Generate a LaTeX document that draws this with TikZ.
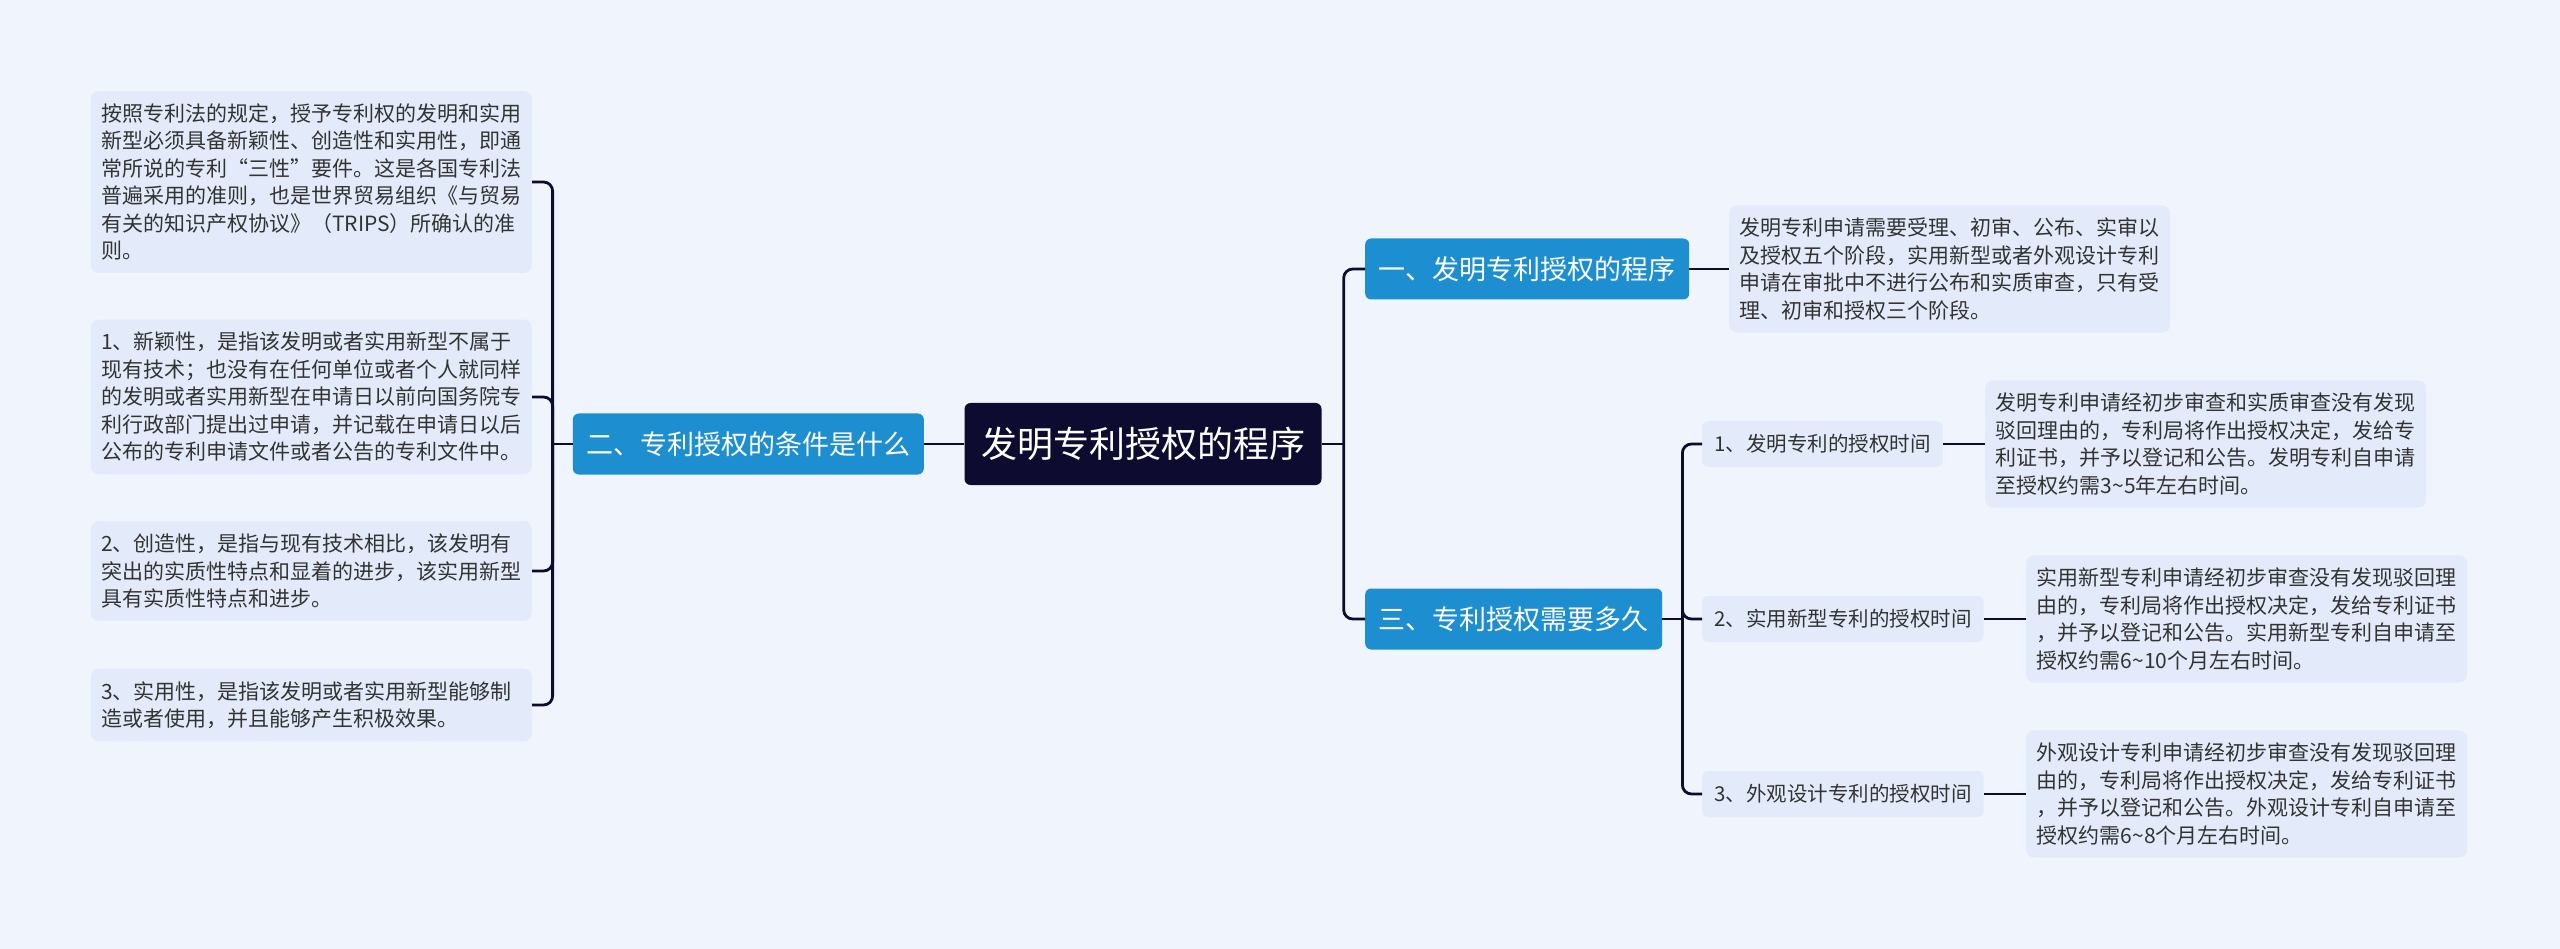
\documentclass[tikz,border=0pt]{standalone}
\usepackage{fontspec}
\usepackage{tikz}
\newfontfamily\cjk{Noto Sans CJK SC}
\definecolor{pagebg}{HTML}{F0F4FD}
\definecolor{navy}{HTML}{0D0B2F}
\definecolor{topicblue}{HTML}{1D8FD1}
\definecolor{notefill}{HTML}{E3EBFB}
\definecolor{notetext}{HTML}{333333}

\begin{document}
\begin{tikzpicture}[
  x=1pt, y=-1pt,
  every node/.style={font=\cjk, inner sep=0pt},
  root/.style={fill=navy, text=white, rounded corners=6pt, minimum width=357pt,
    minimum height=82pt, font=\cjk\fontsize{36}{40}\selectfont},
  topic/.style={fill=topicblue, text=white, rounded corners=6pt, minimum height=61pt,
    inner xsep=13.5pt, font=\cjk\fontsize{27}{30}\selectfont},
  item/.style={fill=notefill, text=notetext, rounded corners=6pt, minimum height=46pt,
    inner xsep=12pt, font=\cjk\fontsize{20.5}{24}\selectfont},
  note/.style={fill=notefill, text=notetext, rounded corners=8pt, text width=420pt,
    align=left, inner xsep=10.5pt, inner ysep=12.5pt, font=\cjk\fontsize{21}{27.5}\selectfont},
  link/.style={draw=navy, line width=2.8pt, rounded corners=9pt}
]
\useasboundingbox[fill=pagebg] (0,0) rectangle (2560,949);

% centre and main topics
\node[root] (root) at (1143,444) {发明专利授权的程序};
\node[topic, anchor=east] (cond) at (924,444) {二、专利授权的条件是什么};
\node[topic, anchor=west] (proc) at (1365,269) {一、发明专利授权的程序};
\node[topic, anchor=west] (dur) at (1365,619) {三、专利授权需要多久};

% left notes
\node[note, anchor=east] (c1) at (532,182) {按照专利法的规定，授予专利权的发明和实用\\
新型必须具备新颖性、创造性和实用性，即通\\
常所说的专利“三性”要件。这是各国专利法\\
普遍采用的准则，也是世界贸易组织《与贸易\\
有关的知识产权协议》（TRIPS）所确认的准\\
则。};
\node[note, anchor=east] (c2) at (532,397) {1、新颖性，是指该发明或者实用新型不属于\\
现有技术；也没有在任何单位或者个人就同样\\
的发明或者实用新型在申请日以前向国务院专\\
利行政部门提出过申请，并记载在申请日以后\\
公布的专利申请文件或者公告的专利文件中。};
\node[note, anchor=east] (c3) at (532,571) {2、创造性，是指与现有技术相比，该发明有\\
突出的实质性特点和显着的进步，该实用新型\\
具有实质性特点和进步。};
\node[note, anchor=east] (c4) at (532,705) {3、实用性，是指该发明或者实用新型能够制\\
造或者使用，并且能够产生积极效果。};

% right side
\node[note, anchor=west] (p1) at (1729,269) {发明专利申请需要受理、初审、公布、实审以\\
及授权五个阶段，实用新型或者外观设计专利\\
申请在审批中不进行公布和实质审查，只有受\\
理、初审和授权三个阶段。};

\node[item, anchor=west] (t1) at (1702,444) {1、发明专利的授权时间};
\node[item, anchor=west] (t2) at (1702,619) {2、实用新型专利的授权时间};
\node[item, anchor=west] (t3) at (1702,794) {3、外观设计专利的授权时间};

\node[note, anchor=west] (d1) at (1985,444) {发明专利申请经初步审查和实质审查没有发现\\
驳回理由的，专利局将作出授权决定，发给专\\
利证书，并予以登记和公告。发明专利自申请\\
至授权约需3\textasciitilde5年左右时间。};
\node[note, anchor=west] (d2) at (2026,619) {实用新型专利申请经初步审查没有发现驳回理\\
由的，专利局将作出授权决定，发给专利证书\\
，并予以登记和公告。实用新型专利自申请至\\
授权约需6\textasciitilde10个月左右时间。};
\node[note, anchor=west] (d3) at (2026,794) {外观设计专利申请经初步审查没有发现驳回理\\
由的，专利局将作出授权决定，发给专利证书\\
，并予以登记和公告。外观设计专利自申请至\\
授权约需6\textasciitilde8个月左右时间。};

% connectors
\draw[link] (root.west) -- (cond.east);
\path (cond.west) ++(-20,0) coordinate (jl);
\draw[link] (cond.west) -- (jl);
\foreach \n in {c1,c2,c3,c4}
  \draw[link] (jl) |- (\n.east);

\path (root.east) ++(22,0) coordinate (jr);
\draw[link] (root.east) -- (jr);
\draw[link] (jr) |- (proc.west);
\draw[link] (jr) |- (dur.west);
\draw[link] (proc.east) -- (p1.west);

\path (dur.east) ++(20,0) coordinate (jd);
\draw[link] (dur.east) -- (jd);
\foreach \n in {t1,t2,t3}
  \draw[link] (jd) |- (\n.west);
\draw[link] (t1.east) -- (d1.west);
\draw[link] (t2.east) -- (d2.west);
\draw[link] (t3.east) -- (d3.west);
\end{tikzpicture}
\end{document}
